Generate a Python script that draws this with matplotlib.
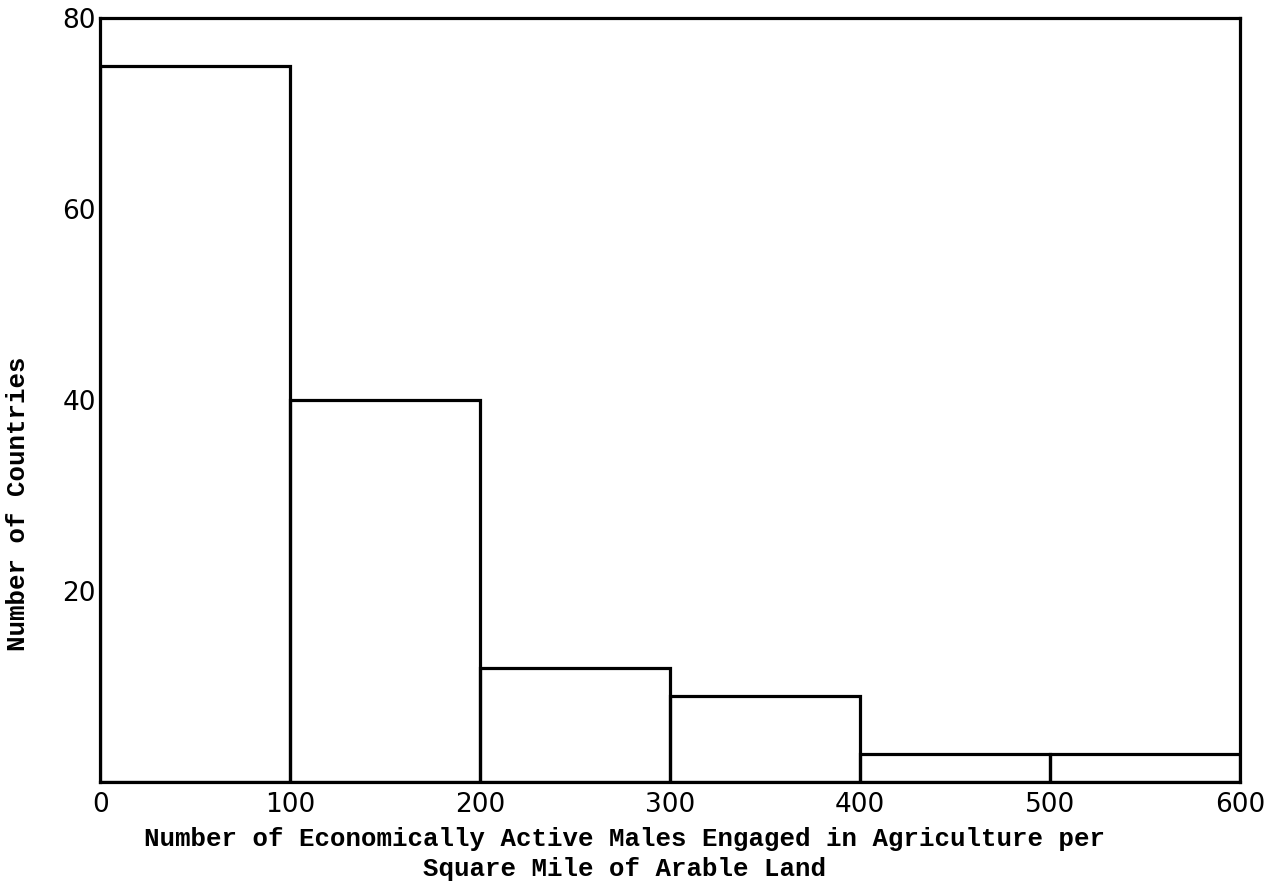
import matplotlib
matplotlib.use("Agg")
import matplotlib.pyplot as plt

#Histogram bins and counts
BIN_LEFT = [0, 100, 200, 300, 400, 500]
BIN_WIDTH = 100
COUNTS = [75, 40, 12, 9, 3, 3]
XTICKS = [0, 100, 200, 300, 400, 500, 600]
YTICKS = [20, 40, 60, 80]

XLABEL = ("Number of Economically Active Males Engaged in Agriculture per\n"
          "Square Mile of Arable Land")
YLABEL = "Number of Countries"

fig = plt.figure(figsize=(12.85, 8.94), dpi=100)
ax = fig.add_axes([0.078, 0.125, 0.887, 0.855])

ax.bar(BIN_LEFT, COUNTS, width=BIN_WIDTH, align="edge", fill=False,
       edgecolor="black", linewidth=2.3)

ax.set_xlim(0, 600)
ax.set_ylim(0, 80)
ax.set_xticks(XTICKS)
ax.set_yticks(YTICKS)
ax.tick_params(length=0, labelsize=19)
ax.tick_params(axis="x", pad=7)
ax.tick_params(axis="y", pad=3)
for sp in ax.spines.values():
    sp.set_linewidth(2.3)

#Typed labels, the original was set on a typewriter
mono = dict(family="Liberation Mono", weight="bold")
ax.set_xlabel(XLABEL, fontsize=18.5, linespacing=1.34, **mono)
ax.xaxis.set_label_coords(0.46, -0.058)
ax.set_ylabel(YLABEL, fontsize=18.5, **mono)
ax.yaxis.set_label_coords(-0.062, 0.364)

fig.savefig("out.png", dpi=100)
